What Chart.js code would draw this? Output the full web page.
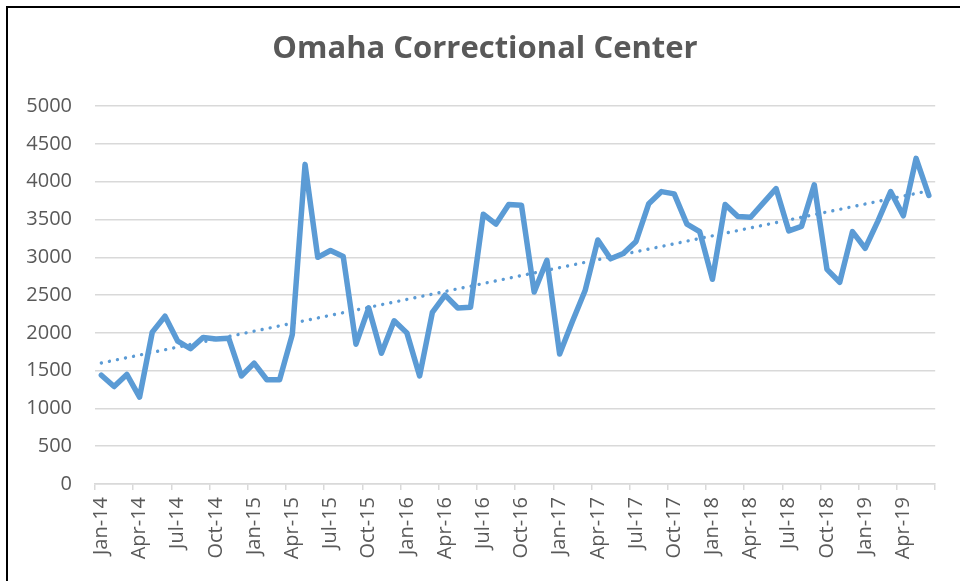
<!DOCTYPE html>
<html>
<head>
<meta charset="utf-8">
<title>Omaha Correctional Center</title>
<script src="https://cdn.jsdelivr.net/npm/chart.js@4.4.1/dist/chart.umd.min.js"></script>
<style>
  body { margin: 0; background: #fff; }
  #wrap { position: relative; width: 960px; height: 581px; overflow: hidden; }
  #frame { position: absolute; left: 6px; top: 6px; width: 1000px; height: 1000px;
           border-top: 2px solid #000; border-left: 2px solid #000; }
  canvas { position: absolute; left: 0; top: 0; }
</style>
</head>
<body>
<div id="wrap">
  <div id="frame"></div>
  <canvas id="chart" width="960" height="581"></canvas>
</div>
<script>
// Months shown on the axis (Jan-14 .. Jun-19)
const monthNames = ['Jan', 'Feb', 'Mar', 'Apr', 'May', 'Jun', 'Jul', 'Aug', 'Sep', 'Oct', 'Nov', 'Dec'];
const years = ['14', '15', '16', '17', '18', '19'];
const months = [];
years.forEach(y => monthNames.forEach(m => months.push(m + '-' + y)));
months.length = 66;

// Monthly values
const population = [
  1440, 1290, 1450, 1150, 2010, 2220, 1890, 1790, 1940, 1920, 1930, 1430,
  1600, 1380, 1380, 1980, 4230, 3000, 3090, 3010, 1850, 2330, 1730, 2160,
  2000, 1430, 2270, 2500, 2330, 2340, 3570, 3440, 3700, 3690, 2540, 2960,
  1720, 2150, 2560, 3230, 2980, 3050, 3210, 3710, 3870, 3840, 3440, 3340,
  2710, 3700, 3540, 3530, 3720, 3910, 3350, 3410, 3960, 2840, 2670, 3340,
  3120, 3480, 3870, 3550, 4310, 3820
];

const yTicks = [0, 500, 1000, 1500, 2000, 2500, 3000, 3500, 4000, 4500, 5000];

// Linear trendline (least squares, like Excel's)
function linearTrend(vals) {
  const n = vals.length;
  let sx = 0, sy = 0, sxy = 0, sxx = 0;
  vals.forEach((v, i) => { sx += i; sy += v; sxy += i * v; sxx += i * i; });
  const b = (n * sxy - sx * sy) / (n * sxx - sx * sx);
  const a = (sy - b * sx) / n;
  return vals.map((v, i) => a + b * i);
}
const trend = linearTrend(population);

const blue = '#5b9bd5';
const gray = '#595959';
const gridGray = '#d9d9d9';
const font = "'Open Sans', sans-serif";

// the title is centred a bit right of the canvas middle
const shiftTitle = {
  id: 'shiftTitle',
  afterLayout(chart) { if (chart.titleBlock) chart.titleBlock.left = 33; }
};

new Chart(document.getElementById('chart'), {
  type: 'line',
  data: {
    labels: months,
    datasets: [
      {
        data: population,
        borderColor: blue,
        borderWidth: 5.5,
        borderJoinStyle: 'round',
        borderCapStyle: 'round',
        pointRadius: 0,
        tension: 0,
        fill: false
      },
      {
        data: trend,
        borderColor: blue,
        borderWidth: 3.4,
        borderDash: [0.01, 8.2],
        borderCapStyle: 'round',
        pointRadius: 0,
        tension: 0,
        fill: false
      }
    ]
  },
  plugins: [shiftTitle],
  options: {
    responsive: false,
    animation: false,
    devicePixelRatio: 1,
    layout: { padding: { left: 10, right: 23, top: 10, bottom: 0 } },
    plugins: {
      legend: { display: false },
      tooltip: { enabled: false },
      title: {
        display: true,
        text: 'Omaha Correctional Center',
        color: gray,
        font: { family: font, size: 31, weight: 'bold' },
        padding: { top: 21, bottom: 38 }
      }
    },
    scales: {
      x: {
        offset: true,
        grid: {
          offset: true,
          drawOnChartArea: false,
          drawTicks: true,
          tickLength: 6,
          lineWidth: 1.5,
          color: ctx => (ctx.index === undefined || ctx.index % 3 === 0) ? gridGray : 'rgba(0,0,0,0)'
        },
        border: { display: true, color: gridGray, width: 1.5 },
        ticks: {
          autoSkip: false,
          minRotation: 90,
          maxRotation: 90,
          padding: 7,
          color: gray,
          font: { family: font, size: 20 },
          callback: (v, i) => i % 3 === 0 ? months[i] : ''
        },
        afterFit: s => { s.height = 97; }
      },
      y: {
        min: 0,
        max: 5000,
        afterBuildTicks: s => { s.ticks = yTicks.map(v => ({ value: v })); },
        grid: { color: gridGray, lineWidth: 1.5, drawTicks: false },
        border: { display: false },
        ticks: {
          padding: 23,
          color: gray,
          font: { family: font, size: 20 },
          callback: v => String(v)
        },
        afterFit: s => { s.width = 85; }
      }
    }
  }
});
</script>
</body>
</html>
